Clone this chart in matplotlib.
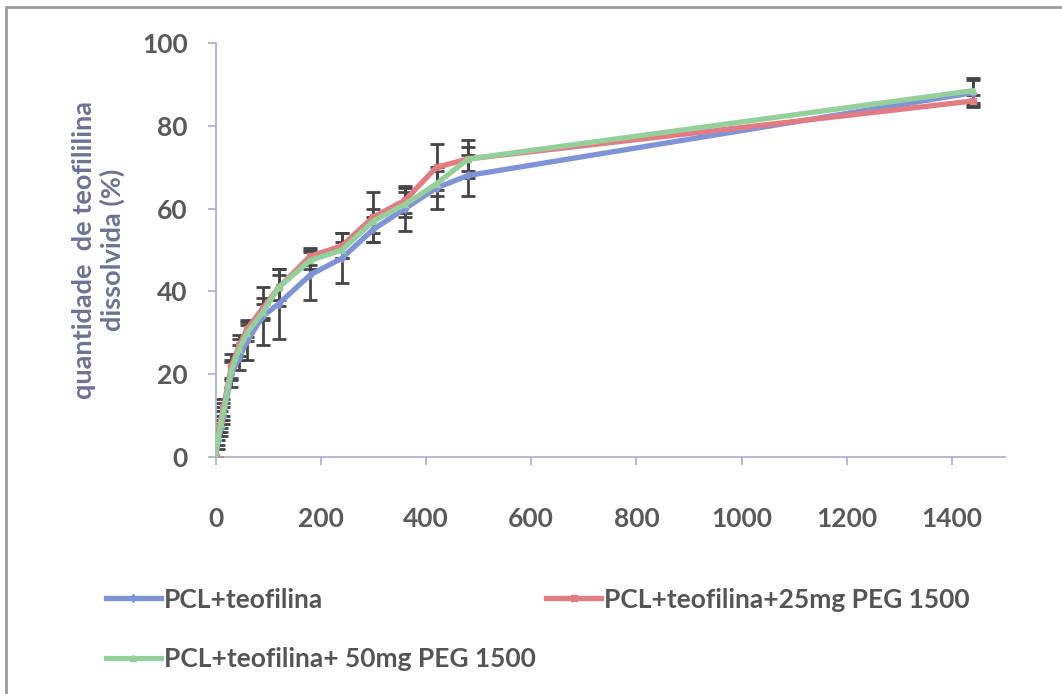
# ____________________________________________________________
# import modules
import matplotlib
matplotlib.use('Agg')
import matplotlib.pyplot as plt
from matplotlib.patches import Rectangle


# ____________________________________________________________
# data

tempo = [0, 5, 10, 15, 30, 45, 60, 90, 120, 180, 240, 300, 360, 420, 480, 1440]

pcl = [0, 4, 7, 10, 20, 24, 28, 34, 37, 44, 48, 55, 60, 65, 68, 88]
pcl_err = [0, 2, 2, 2, 3, 3, 4.5, 7, 8.5, 6, 6, 3, 5.5, 5, 5, 3]

peg25 = [0, 6, 9, 12, 22, 27, 31, 36, 41, 48.5, 51, 58, 62, 70, 72, 86]
peg25_err = [0, 2, 2, 2, 3, 2.5, 2, 2.5, 4.5, 2, 3, 6, 3, 5.5, 3, 1.5]

peg50 = [0, 5, 8, 11, 21, 26, 30, 35, 41, 47.5, 50, 57, 61, 66, 72, 88.5]
peg50_err = [0, 2, 2, 2, 2.5, 2.5, 2, 2, 3, 2, 2, 3, 3, 3, 4.5, 3]

legendas = ['PCL+teofilina', 'PCL+teofilina+25mg PEG 1500', 'PCL+teofilina+ 50mg PEG 1500']
cores = ['#7f94d8', '#e27c82', '#93d09a']
marcadores = ['d', 's', '^']

xticks = [0, 200, 400, 600, 800, 1000, 1200, 1400]
yticks = [0, 20, 40, 60, 80, 100]


# ____________________________________________________________
# plot

plt.rcParams['font.family'] = ['Lato', 'DejaVu Sans']

fig = plt.figure(figsize=(10.62, 6.94), dpi=100)
ax = fig.add_axes([0.203, 0.3415, 0.743, 0.5965])

# border round the whole chart
fig.patches.append(Rectangle((0.006, -0.01), 1.1, 1.0, transform=fig.transFigure,
                             fill=False, edgecolor='#9a9a9a', linewidth=2))

series = [(pcl, pcl_err), (peg25, peg25_err), (peg50, peg50_err)]
handles = []
for (y, e), c, m, lab in zip(series, cores, marcadores, legendas):
    ax.errorbar(tempo, y, yerr=e, fmt='none', ecolor='#454545', elinewidth=2,
                capsize=5, capthick=2, zorder=2)
    h, = ax.plot(tempo, y, color=c, lw=3.8, marker=m, ms=4.5, label=lab, zorder=3)
    handles.append(h)

ax.set_xlim(0, 1500)
ax.set_ylim(0, 100)
ax.set_xticks(xticks)
ax.set_yticks(yticks)

for s in ['top', 'right']:
    ax.spines[s].set_visible(False)
for s in ['left', 'bottom']:
    ax.spines[s].set_color('#a8acd0')
    ax.spines[s].set_linewidth(1.2)

ax.tick_params(axis='both', colors='#a8acd0', length=6, width=1.2, direction='out')
for lbl in ax.get_xticklabels() + ax.get_yticklabels():
    lbl.set_color('#5a5a5a')
    lbl.set_fontsize(19)
    lbl.set_fontweight('bold')
ax.tick_params(axis='x', pad=30)
ax.tick_params(axis='y', pad=14)

ax.set_ylabel('quantidade  de teofililina\ndissolvida (%)', fontsize=19.5,
              fontweight='bold', color='#6f7296', labelpad=12, linespacing=1.2)

leg = fig.legend([handles[0], handles[2], handles[1]],
                 [legendas[0], legendas[2], legendas[1]],
                 ncol=2, loc='upper left', bbox_to_anchor=(0.082, 0.18),
                 frameon=False, fontsize=19, handlelength=2.1, handletextpad=0.1,
                 columnspacing=0.4, labelspacing=1.35, borderpad=0.2)
for t in leg.get_texts():
    t.set_color('#555555')
    t.set_fontweight('bold')

fig.savefig('out.png', dpi=100)
